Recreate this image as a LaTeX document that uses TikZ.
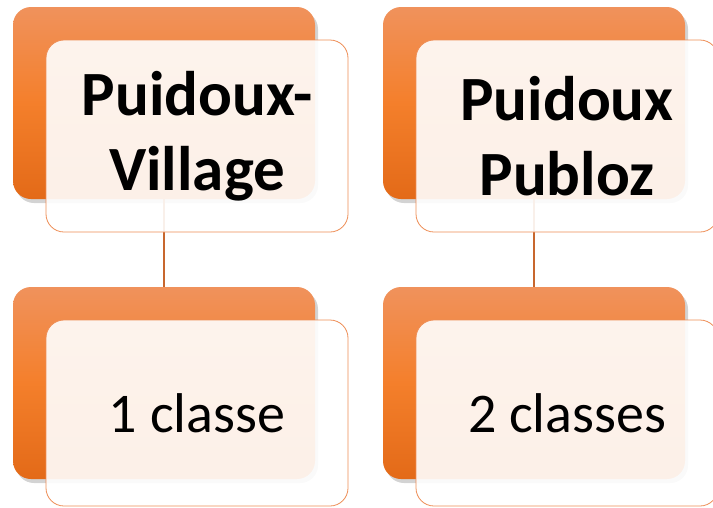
\documentclass[tikz,border=0pt]{standalone}
\usepackage{fontspec}
\setmainfont{Carlito}
\usetikzlibrary{positioning, shadows}
\definecolor{orangetop}{HTML}{F0925C}
\definecolor{orangemid}{HTML}{F47F2B}
\definecolor{orangebot}{HTML}{E36A18}
\definecolor{orangeline}{HTML}{EE8D55}
\definecolor{linkcol}{HTML}{C8672E}

\begin{document}
\begin{tikzpicture}[x=1pt, y=1pt,
		back/.style={rectangle, rounded corners=18pt, outer sep=0pt, minimum width=302pt, minimum height=192pt, top color=orangetop, bottom color=orangebot, middle color=orangemid, drop shadow={shadow xshift=3pt, shadow yshift=-4pt, opacity=0.35}},
		front/.style={rectangle, rounded corners=18pt, outer sep=0pt, minimum width=302pt, minimum height=192pt, draw=orangeline, line width=0.8pt, fill=white, fill opacity=0.9, text opacity=1, align=center, anchor=north west},
		link/.style={draw=linkcol, line width=1.2pt}]
		\useasboundingbox (0,0) rectangle (713,-507);
		\node (pvback) [back, anchor=north west] at (13,-7) {};
		\node (ppback) [back, right=68pt of pvback] {};
		\node (pvcback) [back, below=88pt of pvback] {};
		\node (ppcback) [back, below=88pt of ppback] {};
		\path[link] (pvback.south) -- (pvcback.north);
		\path[link] (ppback.south) -- (ppcback.north);

		\node (pv) [front, font=\fontsize{63}{75}\selectfont\bfseries] at ([shift={(33,-33)}]pvback.north west) {Puidoux-\\Village};
		\node (pp) [front, font=\fontsize{63}{75}\selectfont\bfseries] at ([shift={(33,-33)}]ppback.north west) {Puidoux\\Publoz};
		\node (pvc) [front, minimum height=186pt, font=\fontsize{56}{68}\selectfont] at ([shift={(33,-33)}]pvcback.north west) {1 classe};
		\node (ppc) [front, minimum height=186pt, font=\fontsize{56}{68}\selectfont] at ([shift={(33,-33)}]ppcback.north west) {2 classes};
	\end{tikzpicture}
\end{document}
